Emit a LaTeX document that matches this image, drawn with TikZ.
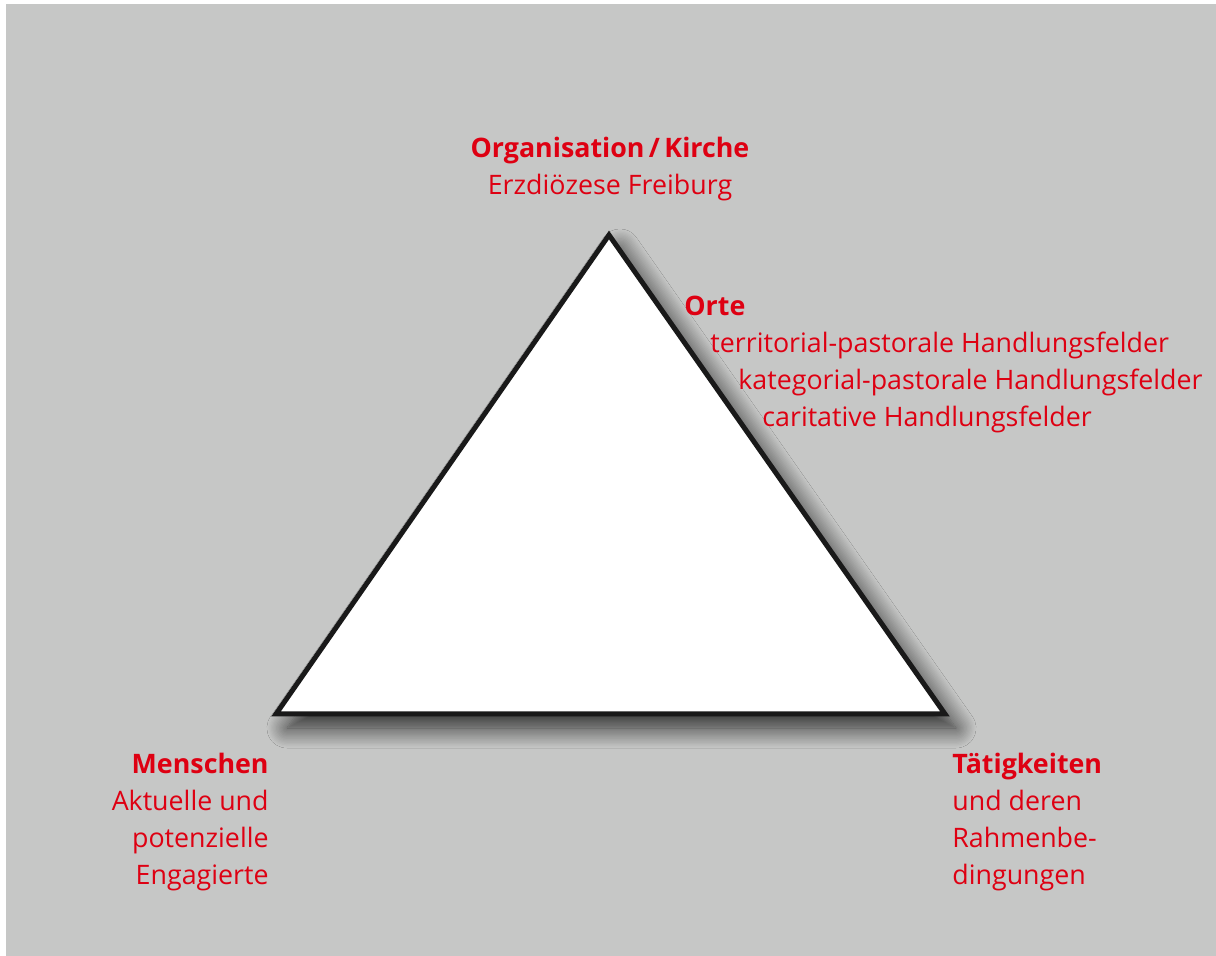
\documentclass[tikz,border=0pt]{standalone}
\usepackage{fontspec}
\setmainfont{Open Sans}
\usepackage{tikz}
\usetikzlibrary{shadows.blur}
\definecolor{bggray}{RGB}{198,199,198}
\definecolor{labelred}{RGB}{222,0,18}
\tikzset{
  x=0.5pt,y=-0.5pt,
}
\tikzstyle{label}=[labelred,inner sep=0pt,font=\fontsize{13.4}{18.5}\selectfont]
\tikzstyle{edge}=[line width=2.5pt,draw=black!90,fill=white,line join=miter]

\begin{document}
\begin{tikzpicture}
  \useasboundingbox (0,0) rectangle (1216,956);
  \fill[bggray] (6,4) rectangle (1216,956);
  % corners of the triangle
  \coordinate (top) at (609,235);
  \coordinate (left) at (276,714);
  \coordinate (right) at (945,714);
  \draw[edge,blur shadow={shadow xshift=5.5pt,shadow yshift=-7pt,shadow blur radius=10pt,shadow blur steps=16,shadow opacity=80}]
    (top)--(left)--(right)--cycle;
  \node[label,anchor=base,align=center] (org) at (610,195)
    {\textbf{Organisation\,/\,Kirche}\\Erzdiözese Freiburg};
  \node[label,anchor=base west] (orte) at (684,316) {\textbf{Orte}};
  \node[label,anchor=base west] (terr) at (710,353) {territorial-pastorale Handlungsfelder};
  \node[label,anchor=base west] (kat) at (738,390) {kategorial-pastorale Handlungsfelder};
  \node[label,anchor=base west] (car) at (762,427) {caritative Handlungsfelder};
  \node[label,anchor=base east,align=right] (menschen) at (269,884)
    {\textbf{Menschen}\\Aktuelle und\\potenzielle\\Engagierte};
  \node[label,anchor=base west,align=left] (taet) at (952,884)
    {\textbf{Tätigkeiten}\\und deren\\Rahmenbe-\\dingungen};
\end{tikzpicture}
\end{document}
